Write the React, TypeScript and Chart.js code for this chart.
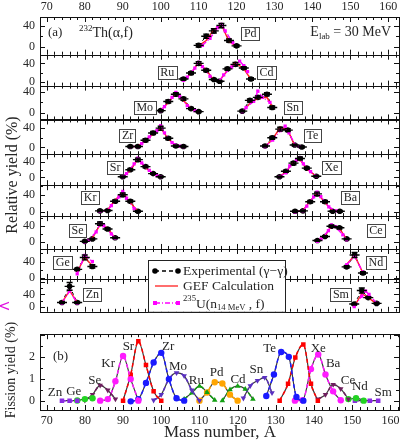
import React, { useEffect, useRef } from "react";
import { Chart, registerables } from "chart.js";
Chart.register(...registerables);

const FONT = '"Liberation Serif", "Times New Roman", serif';
const TXT = "#262626";

// ---------- axis ticks ----------
const massTicks = [70, 80, 90, 100, 110, 120, 130, 140, 150, 160];
const relTicks = [0, 40];
const fissTicks = [0, 1, 2];

// ---------- panel (a): relative yields (%) ----------
// Pd
const pdMass = [110, 112, 114, 116, 118, 120];
const pdExp = [3, 20, 30, 40, 12, 2];
const pdErr = [3, 4, 4, 4, 3, 2];
const pdGef = [2, 12, 32, 42, 10, 1];
const pdUMass = [111, 113, 115, 116, 117, 119];
const pdU = [3, 16, 36, 42, 30, 8];
// Ru
const ruMass = [106, 108, 110, 112, 114];
const ruExp = [6, 19, 40, 25, 5];
const ruErr = [3, 3, 4, 3, 2];
const ruGef = [3, 18, 43, 25, 4];
const ruUMass = [106, 107, 109, 110, 111, 113];
const ruU = [3, 10, 30, 42, 33, 12];
// Cd
const cdMass = [115.5, 117.6, 119.7, 121.9, 123.8];
const cdExp = [1, 28, 38, 30, 6];
const cdErr = [2, 3, 4, 3, 3];
const cdGef = [2, 25, 42, 28, 5];
const cdUMass = [115.5, 116.6, 118.7, 120.8, 121.9, 122.9];
const cdU = [2, 15, 32, 45, 35, 22];
// Mo
const moMass = [100, 102, 104, 106, 108, 110];
const moExp = [4, 22, 36, 27, 8, 2];
const moErr = [2, 3, 3, 3, 2, 2];
const moGef = [4, 20, 38, 24, 8, 1];
const moUMass = [100, 101, 103, 104, 105, 107, 109];
const moU = [4, 12, 30, 40, 32, 14, 4];
// Sn
const snMass = [121.5, 123.5, 125.6, 128, 129.4];
const snExp = [3, 24, 30, 36, 10];
const snErr = [2, 3, 3, 3, 3];
const snGef = [2, 18, 28, 30, 12];
const snUMass = [121.5, 122.5, 124.5, 125.6, 126.8, 128.8];
const snU = [2, 10, 22, 42, 30, 20];
// Zr
const zrMass = [92, 94, 96, 98, 100, 102, 104, 106];
const zrExp = [2, 2, 15, 30, 40, 19, 3, 2];
const zrErr = [2, 2, 3, 3, 4, 3, 2, 2];
const zrGef = [1, 3, 14, 28, 40, 18, 3, 1];
const zrUMass = [92, 94, 95, 97, 99, 100, 101, 103, 105, 106];
const zrU = [2, 2, 8, 22, 35, 45, 30, 10, 3, 2];
// Te
const teMass = [127.5, 129.4, 131.5, 133.5, 135.3, 137.2];
const teExp = [3, 20, 38, 36, 5, 1];
const teErr = [2, 3, 4, 3, 2, 2];
const teGef = [2, 16, 42, 36, 4, 1];
const teUMass = [127.5, 129.5, 131.5, 132.8, 133.8, 135.5, 136.6];
const teU = [2, 15, 35, 44, 30, 5, 2];
// Sr
const srMass = [90, 92, 94, 96, 98, 100];
const srExp = [2, 20, 46, 28, 10, 2];
const srErr = [2, 3, 4, 3, 2, 2];
const srGef = [2, 18, 48, 25, 10, 2];
const srUMass = [90, 91, 93, 94, 95, 97, 99, 100];
const srU = [2, 10, 35, 50, 38, 18, 5, 2];
// Xe
const xeMass = [131.3, 133, 135, 136.7, 138.5, 141];
const xeExp = [2, 16, 37, 49, 24, 3];
const xeErr = [2, 3, 4, 4, 3, 2];
const xeGef = [2, 14, 40, 46, 22, 3];
const xeUMass = [131.3, 133, 134, 135.8, 136.7, 137.6, 139.5, 141];
const xeU = [2, 12, 30, 45, 50, 35, 15, 3];
// Kr
const krMass = [84, 86, 88, 90, 92, 94];
const krExp = [3, 4, 25, 40, 25, 2];
const krErr = [2, 2, 3, 4, 3, 2];
const krGef = [2, 5, 28, 45, 22, 2];
const krUMass = [84, 86, 87, 89, 90, 91, 93];
const krU = [2, 4, 15, 35, 48, 32, 8];
// Ba
const baMass = [135.4, 137.5, 139.4, 141.2, 143.3, 145.3, 147.2];
const baExp = [2, 3, 24, 42, 24, 2, 2];
const baErr = [2, 2, 3, 4, 3, 2, 2];
const baGef = [1, 4, 26, 44, 22, 3, 1];
const baUMass = [135.4, 137.5, 138.5, 140.3, 141.2, 142.2, 144.3, 146.3];
const baU = [1, 3, 14, 35, 46, 36, 12, 3];
// Se
const seMass = [80, 82, 84, 86, 88];
const seExp = [2, 8, 45, 32, 11];
const seErr = [2, 2, 4, 3, 2];
const seGef = [1, 10, 42, 35, 10];
const seUMass = [80, 81, 83, 84, 85, 87, 88];
const seU = [1, 5, 25, 45, 40, 20, 10];
// Ce
const ceMass = [141.3, 143.3, 145, 147.1, 149];
const ceExp = [4, 14, 39, 35, 8];
const ceErr = [2, 2, 3, 3, 2];
const ceGef = [3, 16, 40, 34, 7];
const ceUMass = [141.3, 142.3, 144.2, 145, 146, 148, 149];
const ceU = [2, 8, 28, 42, 38, 18, 6];
// Ge
const geMass = [78, 80, 82];
const geExp = [21, 50, 28];
const geErr = [3, 6, 4];
const geGef = [15, 50, 30];
const geUMass = [78, 80, 82];
const geU = [10, 55, 40];
// Nd
const ndMass = [149, 151.1, 153.3];
const ndExp = [27, 56, 12];
const ndErr = [3, 6, 3];
const ndGef = [33, 55, 12];
const ndUMass = [149, 151.1, 153.3];
const ndU = [32, 52, 14];
// Zn
const znMass = [74, 76, 78];
const znExp = [15, 65, 15];
const znErr = [3, 12, 3];
const znGef = [15, 52, 15];
const znUMass = [74, 76, 78];
const znU = [14, 50, 14];
// Sm
const smMass = [151, 153, 154.7, 156.9];
const smExp = [10, 52, 30, 12];
const smErr = [3, 8, 3, 3];
const smGef = [3, 42, 30, 10];
const smUMass = [151, 153, 154, 154.9, 156.9];
const smU = [2, 35, 50, 40, 12];

// ---------- panel (b): fission yields (%) ----------
const fyZnMass = [74, 76, 78];
const fyZn = [0.03, 0.03, 0.03];
const fyGeMass = [78, 80, 82];
const fyGe = [0.04, 0.1, 0.14];
const fySeMass = [80, 82, 84, 86, 88];
const fySe = [0.05, 0.3, 0.72, 0.5, 0.1];
const fyKrMass = [84, 86, 88, 90, 92, 94];
const fyKr = [0.03, 0.1, 0.9, 2.04, 1.0, 0.03];
const fySrMass = [90, 92, 94, 96, 98, 100];
const fySr = [0.03, 1.2, 2.7, 1.63, 0.45, 0.03];
const fyZrMass = [92, 94, 96, 98, 100, 102, 104, 106];
const fyZr = [0.0, 0.1, 0.83, 1.75, 2.18, 1.0, 0.14, 0.03];
const fyMoMass = [98, 100, 102, 104, 106, 108, 110];
const fyMo = [0.05, 0.3, 1.0, 1.28, 1.15, 0.5, 0.03];
const fyRuMass = [106, 108, 110, 112, 114];
const fyRu = [0.1, 0.38, 0.68, 0.4, 0.05];
const fyPdMass = [110, 112, 114, 116, 118, 120];
const fyPd = [0.03, 0.4, 0.86, 0.8, 0.3, 0.03];
const fyCdMass = [116, 118, 120, 122, 124];
const fyCd = [0.03, 0.52, 0.68, 0.55, 0.1];
const fySnMass = [121.5, 123.3, 125.2, 127.1, 129];
const fySn = [0.14, 0.7, 0.93, 1.07, 0.38];
const fyTeMass = [127.5, 129.5, 131.4, 133.4, 135.4, 137.2];
const fyTe = [0.24, 1.21, 2.22, 2.0, 0.2, 0.03];
const fyXeMass = [131, 133.2, 135.1, 137.2, 139.2, 141];
const fyXe = [0.03, 0.79, 1.97, 2.56, 0.79, 0.03];
const fyBaMass = [135, 137, 139.2, 141.1, 143, 145, 147];
const fyBa = [0.03, 0.05, 1.45, 2.11, 1.21, 0.45, 0.05];
const fyCeMass = [141, 143, 145, 147, 149];
const fyCe = [0.1, 0.3, 0.75, 0.56, 0.1];
const fyNdMass = [149, 151, 153];
const fyNd = [0.1, 0.14, 0.03];
const fySmMass = [150.7, 152.8, 154.6, 156.8];
const fySm = [0.03, 0.03, 0.03, 0.03];

// ---------- layout / styling (not data) ----------
const panelRanges = [
  [-14.5, 56], [-8.4, 59], [-13.3, 53], [-14, 58], [-20, 60],
  [-9, 62], [-16.5, 63.5], [-2.4, 70.6], [-14, 88],
];
const panelWeights = [39, 32, 35, 36, 32, 32, 34, 31, 34];

const topEls = [
  { n: "Pd", p: 0, m: pdMass, e: pdExp, er: pdErr, g: pdGef, um: pdUMass, u: pdU, lx: 123.6, ly: 25 },
  { n: "Ru", p: 1, m: ruMass, e: ruExp, er: ruErr, g: ruGef, um: ruUMass, u: ruU, lx: 101.7, ly: 21 },
  { n: "Cd", p: 1, m: cdMass, e: cdExp, er: cdErr, g: cdGef, um: cdUMass, u: cdU, lx: 127.9, ly: 21 },
  { n: "Mo", p: 2, m: moMass, e: moExp, er: moErr, g: moGef, um: moUMass, u: moU, lx: 95.8, ly: 11 },
  { n: "Sn", p: 2, m: snMass, e: snExp, er: snErr, g: snGef, um: snUMass, u: snU, lx: 134.8, ly: 11 },
  { n: "Zr", p: 3, m: zrMass, e: zrExp, er: zrErr, g: zrGef, um: zrUMass, u: zrU, lx: 91.3, ly: 25 },
  { n: "Te", p: 3, m: teMass, e: teExp, er: teErr, g: teGef, um: teUMass, u: teU, lx: 140, ly: 25 },
  { n: "Sr", p: 4, m: srMass, e: srExp, er: srErr, g: srGef, um: srUMass, u: srU, lx: 88, ly: 26 },
  { n: "Xe", p: 4, m: xeMass, e: xeExp, er: xeErr, g: xeGef, um: xeUMass, u: xeU, lx: 145, ly: 26 },
  { n: "Kr", p: 5, m: krMass, e: krExp, er: krErr, g: krGef, um: krUMass, u: krU, lx: 81.4, ly: 34 },
  { n: "Ba", p: 5, m: baMass, e: baExp, er: baErr, g: baGef, um: baUMass, u: baU, lx: 150, ly: 34 },
  { n: "Se", p: 6, m: seMass, e: seExp, er: seErr, g: seGef, um: seUMass, u: seU, lx: 78.1, ly: 29 },
  { n: "Ce", p: 6, m: ceMass, e: ceExp, er: ceErr, g: ceGef, um: ceUMass, u: ceU, lx: 156.7, ly: 29 },
  { n: "Ge", p: 7, m: geMass, e: geExp, er: geErr, g: geGef, um: geUMass, u: geU, lx: 74.2, ly: 38 },
  { n: "Nd", p: 7, m: ndMass, e: ndExp, er: ndErr, g: ndGef, um: ndUMass, u: ndU, lx: 156.7, ly: 38 },
  { n: "Zn", p: 8, m: znMass, e: znExp, er: znErr, g: znGef, um: znUMass, u: znU, lx: 82, ly: 40 },
  { n: "Sm", p: 8, m: smMass, e: smExp, er: smErr, g: smGef, um: smUMass, u: smU, lx: 147.5, ly: 40 },
];

const C_ZN = "#8a2be2", C_GE = "#22d322", C_SE = "#6e1f5e", C_KR = "#ff1aff", C_SR = "#ff0000";
const C_ZR = "#1a1aff", C_MO = "#5a30c0", C_RU = "#12a012", C_PD = "#ffa500";

const botEls = [
  { n: "Zn", m: fyZnMass, v: fyZn, c: C_ZN, s: "rect", r: 0, lx: 72.2, ly: 0.38 },
  { n: "Ge", m: fyGeMass, v: fyGe, c: C_GE, s: "circle", r: 0, lx: 77.1, ly: 0.45 },
  { n: "Se", m: fySeMass, v: fySe, c: C_SE, s: "triangle", r: 180, lx: 82.6, ly: 0.93 },
  { n: "Kr", m: fyKrMass, v: fyKr, c: C_KR, s: "circle", r: 0, lx: 86.1, ly: 1.7 },
  { n: "Sr", m: fySrMass, v: fySr, c: C_SR, s: "rect", r: 0, lx: 91.4, ly: 2.45 },
  { n: "Zr", m: fyZrMass, v: fyZr, c: C_ZR, s: "circle", r: 0, lx: 101.8, ly: 2.46 },
  { n: "Mo", m: fyMoMass, v: fyMo, c: C_MO, s: "triangle", r: 180, lx: 104.4, ly: 1.56 },
  { n: "Ru", m: fyRuMass, v: fyRu, c: C_RU, s: "triangle", r: 0, lx: 109.2, ly: 0.95 },
  { n: "Pd", m: fyPdMass, v: fyPd, c: C_PD, s: "circle", r: 0, lx: 114.5, ly: 1.28 },
  { n: "Cd", m: fyCdMass, v: fyCd, c: C_RU, s: "triangle", r: 0, lx: 120.1, ly: 1.0 },
  { n: "Sn", m: fySnMass, v: fySn, c: C_MO, s: "triangle", r: 180, lx: 124.9, ly: 1.45 },
  { n: "Te", m: fyTeMass, v: fyTe, c: C_ZR, s: "circle", r: 0, lx: 128.4, ly: 2.39 },
  { n: "Xe", m: fyXeMass, v: fyXe, c: C_SR, s: "rect", r: 0, lx: 141.1, ly: 2.39 },
  { n: "Ba", m: fyBaMass, v: fyBa, c: C_KR, s: "circle", r: 0, lx: 145, ly: 1.7 },
  { n: "Ce", m: fyCeMass, v: fyCe, c: C_SE, s: "triangle", r: 180, lx: 148.9, ly: 0.93 },
  { n: "Nd", m: fyNdMass, v: fyNd, c: C_GE, s: "circle", r: 0, lx: 152, ly: 0.65 },
  { n: "Sm", m: fySmMass, v: fySm, c: C_ZN, s: "rect", r: 0, lx: 158.1, ly: 0.38 },
];

const toXY = (xs: number[], ys: number[]) => xs.map((x, i) => ({ x, y: ys[i] }));

type Part = { t: string; s?: "sup" | "sub" };
function rich(ctx: CanvasRenderingContext2D, parts: Part[], x: number, y: number, size: number, measureOnly = false) {
  let cx = x;
  for (const p of parts) {
    const fs = p.s ? size * 0.64 : size;
    ctx.font = `${fs}px ${FONT}`;
    const dy = p.s === "sup" ? -size * 0.36 : p.s === "sub" ? size * 0.3 : 0;
    if (!measureOnly) ctx.fillText(p.t, cx, y + dy);
    cx += ctx.measureText(p.t).width;
  }
  return cx - x;
}

function frameTicks(ctx: CanvasRenderingContext2D, left: number, right: number, top: number, bottom: number,
  xs: any, ys: any, xStep: number, xMajor: number, yStep: number, yMajor: number) {
  ctx.save();
  ctx.strokeStyle = "#111";
  ctx.lineWidth = 1;
  ctx.strokeRect(Math.round(left) + 0.5, Math.round(top) + 0.5, Math.round(right - left), Math.round(bottom - top));
  ctx.beginPath();
  const xStart = Math.ceil(xs.min / xStep) * xStep;
  for (let v = xStart; v <= xs.max + 1e-9; v += xStep) {
    const px = Math.round(xs.getPixelForValue(v)) + 0.5;
    const len = Math.abs(v / xMajor - Math.round(v / xMajor)) < 1e-6 ? 5 : 3;
    ctx.moveTo(px, top); ctx.lineTo(px, top + len);
    ctx.moveTo(px, bottom); ctx.lineTo(px, bottom - len);
  }
  const yStart = Math.ceil(ys.min / yStep) * yStep;
  for (let v = yStart; v <= ys.max + 1e-9; v += yStep) {
    const py = Math.round(ys.getPixelForValue(v)) + 0.5;
    const len = Math.abs(v / yMajor - Math.round(v / yMajor)) < 1e-6 ? 5 : 3;
    ctx.moveTo(left, py); ctx.lineTo(left + len, py);
    ctx.moveTo(right, py); ctx.lineTo(right - len, py);
  }
  ctx.stroke();
  ctx.restore();
}

const topPlugin = {
  id: "topDecor",
  afterDatasetsDraw(chart: any) {
    const ctx = chart.ctx as CanvasRenderingContext2D;
    const xs = chart.scales.x;
    const ca = chart.chartArea;
    // error bars on experimental points
    chart.data.datasets.forEach((ds: any) => {
      if (!ds.errors) return;
      const ys = chart.scales[ds.yAxisID];
      ctx.save();
      ctx.strokeStyle = "#000";
      ctx.beginPath();
      ds.data.forEach((pt: any, j: number) => {
        const px = xs.getPixelForValue(pt.x);
        const py = ys.getPixelForValue(pt.y);
        const e = ds.errors[j];
        const t = ys.getPixelForValue(pt.y + e), b = ys.getPixelForValue(pt.y - e);
        ctx.moveTo(px, t); ctx.lineTo(px, b);
        ctx.moveTo(px - 3, t); ctx.lineTo(px + 3, t);
        ctx.moveTo(px - 3, b); ctx.lineTo(px + 3, b);
        ctx.moveTo(px - 5, py); ctx.lineTo(px + 5, py);
      });
      ctx.lineWidth = 1.4;
      ctx.stroke();
      ctx.restore();
    });
    // panel frames & ticks
    for (let i = 0; i < panelRanges.length; i++) {
      const ys = chart.scales["y" + i];
      frameTicks(ctx, ca.left, ca.right, ys.top, ys.bottom, xs, ys, 2, 10, 20, 40);
    }
    // element labels in boxes
    ctx.save();
    ctx.font = `12px ${FONT}`;
    ctx.textAlign = "center";
    ctx.textBaseline = "middle";
    for (const el of topEls) {
      const ys = chart.scales["y" + el.p];
      const px = xs.getPixelForValue(el.lx);
      const py = ys.getPixelForValue(el.ly);
      const w = ctx.measureText(el.n).width + 5;
      const h = 13;
      ctx.fillStyle = "#fff";
      ctx.fillRect(px - w / 2, py - h / 2, w, h);
      ctx.strokeStyle = "#444";
      ctx.lineWidth = 1;
      ctx.strokeRect(Math.round(px - w / 2) + 0.5, Math.round(py - h / 2) + 0.5, Math.round(w), h);
      ctx.fillStyle = TXT;
      ctx.fillText(el.n, px, py + 0.5);
    }
    ctx.restore();
  },
  afterDraw(chart: any) {
    const ctx = chart.ctx as CanvasRenderingContext2D;
    const y0 = chart.scales.y0;
    ctx.save();
    ctx.fillStyle = TXT;
    ctx.textBaseline = "middle";
    ctx.textAlign = "left";
    // (a) annotations
    const ay = y0.getPixelForValue(27);
    rich(ctx, [{ t: "(a)" }], 48, ay, 13);
    rich(ctx, [{ t: "232", s: "sup" }, { t: "Th(α,f)" }], 79, ay + 1, 14);
    const eParts: Part[] = [{ t: "E" }, { t: "lab", s: "sub" }, { t: " = 30 MeV" }];
    const ew = rich(ctx, eParts, 0, 0, 14, true);
    rich(ctx, eParts, 391 - ew, ay, 14);
    // y title
    ctx.save();
    ctx.translate(13, 175);
    ctx.rotate(-Math.PI / 2);
    ctx.textAlign = "center";
    ctx.font = `16px ${FONT}`;
    ctx.fillText("Relative yield (%)", 0, 0);
    ctx.restore();
    // legend
    const L = 148, T = 260, R = 285, B = chart.scales.y8.bottom;
    ctx.fillStyle = "#fff";
    ctx.fillRect(L, T, R - L, B - T);
    ctx.strokeStyle = "#222";
    ctx.lineWidth = 1;
    ctx.strokeRect(L + 0.5, T + 0.5, R - L, B - T);
    const r1 = 271, r2 = 286, r3 = 303;
    // row 1 : experimental
    ctx.strokeStyle = "#000";
    ctx.setLineDash([4, 3]);
    ctx.lineWidth = 1.3;
    ctx.beginPath(); ctx.moveTo(155, r1); ctx.lineTo(178, r1); ctx.stroke();
    ctx.setLineDash([]);
    ctx.fillStyle = "#000";
    for (const px of [155, 178]) { ctx.beginPath(); ctx.arc(px, r1, 2.8, 0, Math.PI * 2); ctx.fill(); }
    // row 2 : GEF
    ctx.strokeStyle = "#ff2020";
    ctx.lineWidth = 1.3;
    ctx.beginPath(); ctx.moveTo(155, r2); ctx.lineTo(178, r2); ctx.stroke();
    // row 3 : 235U
    ctx.strokeStyle = "#ff00ff";
    ctx.setLineDash([5, 2, 1, 2]);
    ctx.beginPath(); ctx.moveTo(155, r3); ctx.lineTo(178, r3); ctx.stroke();
    ctx.setLineDash([]);
    ctx.fillStyle = "#ff00ff";
    for (const px of [155, 178]) ctx.fillRect(px - 2, r3 - 2, 4, 4);
    ctx.fillStyle = TXT;
    rich(ctx, [{ t: "Experimental (γ−γ)" }], 183, r1, 13.5);
    rich(ctx, [{ t: "GEF Calculation" }], 183, r2, 13.5);
    rich(ctx, [{ t: "235", s: "sup" }, { t: "U(n" }, { t: "14 MeV", s: "sub" }, { t: " , f)" }], 183, r3 + 1, 13.5);
    // cropped artifact at left edge
    ctx.fillStyle = "#e010e0";
    ctx.font = `15px "DejaVu Sans", sans-serif`;
    ctx.fillText("<", -2, 307);
    ctx.restore();
  },
};

const botPlugin = {
  id: "botDecor",
  afterDatasetsDraw(chart: any) {
    const ctx = chart.ctx as CanvasRenderingContext2D;
    const xs = chart.scales.x, ys = chart.scales.y;
    const ca = chart.chartArea;
    frameTicks(ctx, ca.left, ca.right, ca.top, ca.bottom, xs, ys, 2, 10, 0.5, 1);
    ctx.save();
    ctx.fillStyle = TXT;
    ctx.font = `13px ${FONT}`;
    ctx.textAlign = "center";
    ctx.textBaseline = "middle";
    for (const el of botEls) {
      ctx.fillText(el.n, xs.getPixelForValue(el.lx), ys.getPixelForValue(el.ly));
    }
    ctx.textAlign = "left";
    rich(ctx, [{ t: "(b)" }], 53, ys.getPixelForValue(2.0), 13);
    ctx.restore();
  },
  afterDraw(chart: any) {
    const ctx = chart.ctx as CanvasRenderingContext2D;
    ctx.save();
    ctx.fillStyle = TXT;
    ctx.textAlign = "center";
    ctx.textBaseline = "middle";
    ctx.font = `17px ${FONT}`;
    ctx.fillText("Mass number, A", 220, 111);
    ctx.translate(11, 48);
    ctx.rotate(-Math.PI / 2);
    ctx.font = `14px ${FONT}`;
    ctx.fillText("Fission yield (%)", 0, 0);
    ctx.restore();
  },
};

export default function App() {
  const topRef = useRef<HTMLCanvasElement>(null);
  const botRef = useRef<HTMLCanvasElement>(null);

  useEffect(() => {
    document.body.style.margin = "0";
    const tickFont = { family: FONT, size: 12 };

    // ---- top chart (a) ----
    const topDatasets: any[] = [];
    topEls.forEach((el) => {
      const yAxisID = "y" + el.p;
      topDatasets.push({
        label: el.n + " 235U", data: toXY(el.um, el.u), xAxisID: "x", yAxisID,
        borderColor: "#ff00ff", backgroundColor: "#ff00ff", borderWidth: 1.4, borderDash: [5, 2, 1, 2],
        pointStyle: "rect", pointRadius: 2.3, pointBorderWidth: 0, order: 1,
      });
      topDatasets.push({
        label: el.n + " GEF", data: toXY(el.m, el.g), xAxisID: "x", yAxisID,
        borderColor: "#ff2020", borderWidth: 1.4, pointRadius: 0, order: 2,
      });
      topDatasets.push({
        label: el.n + " exp", data: toXY(el.m, el.e), errors: el.er, xAxisID: "x", yAxisID,
        borderColor: "#000", backgroundColor: "#000", borderWidth: 1, borderDash: [3, 3],
        pointRadius: 2.8, pointBorderWidth: 0, order: 3,
      });
    });

    const topScales: any = {
      x: {
        type: "linear", position: "top", min: 68.2, max: 162.8,
        grid: { display: false, drawTicks: false }, border: { display: false },
        ticks: { font: tickFont, color: TXT, padding: 3, maxRotation: 0, autoSkip: false },
        afterBuildTicks: (s: any) => { s.ticks = massTicks.map((v) => ({ value: v })); },
        afterFit: (s: any) => { s.height = 17; },
      },
    };
    panelRanges.forEach((r, i) => {
      topScales["y" + i] = {
        type: "linear", position: "left", stack: "panels", stackWeight: panelWeights[i], weight: 20 - i,
        offset: false, min: r[0], max: r[1],
        grid: { display: false, drawTicks: false }, border: { display: false },
        ticks: { font: tickFont, color: TXT, padding: 5, autoSkip: false },
        afterBuildTicks: (s: any) => { s.ticks = relTicks.map((v) => ({ value: v })); },
        afterFit: (s: any) => { s.width = 28; },
      };
    });

    const c1 = new Chart(topRef.current as HTMLCanvasElement, {
      type: "line",
      data: { datasets: topDatasets },
      options: {
        responsive: false, animation: false, devicePixelRatio: 1,
        layout: { padding: { left: 12, right: 6, top: 0, bottom: 2 } },
        plugins: { legend: { display: false }, tooltip: { enabled: false } },
        scales: topScales,
      },
      plugins: [topPlugin],
    } as any);

    // ---- bottom chart (b) ----
    const botDatasets: any[] = [];
    botEls.forEach((el) => {
      botDatasets.push({
        label: el.n, data: toXY(el.m, el.v), borderColor: el.c, backgroundColor: el.c,
        borderWidth: 1.5, borderDash: [4, 3], cubicInterpolationMode: "monotone",
        pointStyle: el.s, pointRotation: el.r, pointRadius: 3.2, pointBorderWidth: 0, order: 1,
      });
      botDatasets.push({
        label: el.n + " fit", data: toXY(el.m, el.v), borderColor: "#3a3a3a",
        borderWidth: 1.2, cubicInterpolationMode: "monotone", pointRadius: 0, order: 2,
      });
    });

    const c2 = new Chart(botRef.current as HTMLCanvasElement, {
      type: "line",
      data: { datasets: botDatasets },
      options: {
        responsive: false, animation: false, devicePixelRatio: 1,
        layout: { padding: { left: 12, right: 6, top: 6, bottom: 0 } },
        plugins: { legend: { display: false }, tooltip: { enabled: false } },
        scales: {
          x: {
            type: "linear", position: "bottom", min: 68.25, max: 162.25,
            grid: { display: false, drawTicks: false }, border: { display: false },
            ticks: { font: tickFont, color: TXT, padding: 4, maxRotation: 0, autoSkip: false },
            afterBuildTicks: (s: any) => { s.ticks = massTicks.map((v) => ({ value: v })); },
            afterFit: (s: any) => { s.height = 37; },
          },
          y: {
            type: "linear", position: "left", min: -0.39, max: 3.02,
            grid: { display: false, drawTicks: false }, border: { display: false },
            ticks: { font: tickFont, color: TXT, padding: 5, autoSkip: false },
            afterBuildTicks: (s: any) => { s.ticks = fissTicks.map((v) => ({ value: v })); },
            afterFit: (s: any) => { s.width = 28; },
          },
        },
      },
      plugins: [botPlugin],
    } as any);

    return () => { c1.destroy(); c2.destroy(); };
  }, []);

  return (
    <div style={{ position: "relative", width: 405, height: 447, background: "#fff", overflow: "hidden" }}>
      <canvas ref={topRef} width={405} height={324} style={{ position: "absolute", left: 0, top: 0 }} />
      <canvas ref={botRef} width={405} height={125} style={{ position: "absolute", left: 0, top: 322 }} />
    </div>
  );
}
